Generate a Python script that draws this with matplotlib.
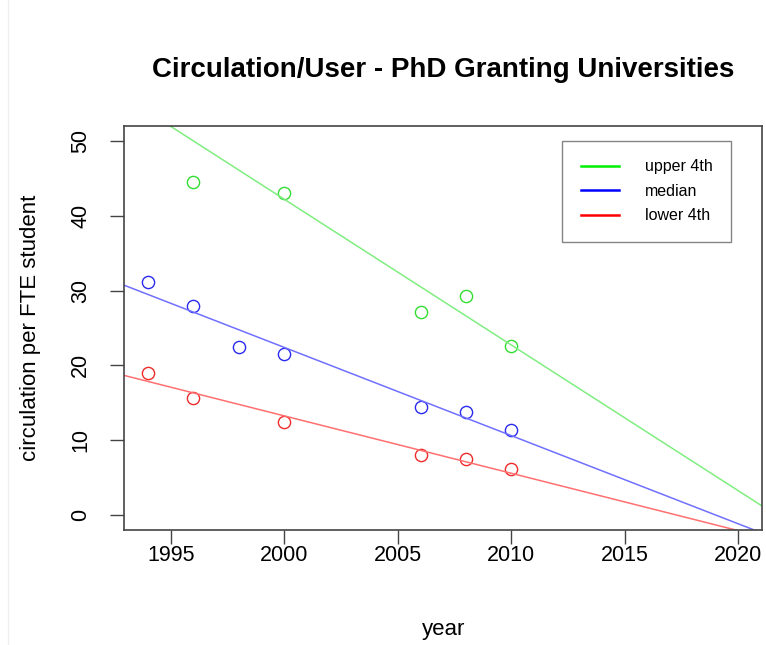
import numpy as np
import matplotlib
matplotlib.use("Agg")
import matplotlib.pyplot as plt
from matplotlib.lines import Line2D

plt.rcParams['font.family'] = ['Liberation Sans', 'DejaVu Sans']

upper_years = [1996, 2000, 2006, 2008, 2010]
upper_vals = [44.5, 43.0, 27.2, 29.3, 22.6]
median_years = [1994, 1996, 1998, 2000, 2006, 2008, 2010]
median_vals = [31.1, 28.0, 22.5, 21.5, 14.4, 13.8, 11.4]
lower_years = [1994, 1996, 2000, 2006, 2008, 2010]
lower_vals = [19.0, 15.7, 12.4, 8.0, 7.5, 6.2]

# fitted trend lines: value at 2000 and slope per year
upper_fit = (42.2, -1.948)
median_fit = (22.4, -1.179)
lower_fit = (13.25, -0.767)

xticks = [1995, 2000, 2005, 2010, 2015, 2020]
yticks = [0, 10, 20, 30, 40, 50]

fig = plt.figure(figsize=(7.66, 6.45), dpi=100)
ax = fig.add_axes([0.1625, 0.1783, 0.8323, 0.6264])

xlim = (1994 - 1.04, 2020 + 1.04)
ylim = (-2, 52)
xs = np.array(xlim)

series = [
    (upper_years, upper_vals, upper_fit, '#33dd33', '#80ee80', '#00ee00', 'upper 4th'),
    (median_years, median_vals, median_fit, '#2a2aee', '#7070ff', '#0000ff', 'median'),
    (lower_years, lower_vals, lower_fit, '#ee2a2a', '#ff7070', '#ff0000', 'lower 4th'),
]
handles = []
for yrs, vals, (b, m), pc, lc, legc, name in series:
    ax.plot(yrs, vals, 'o', mfc='none', mec=pc, ms=8.8, mew=1.0)
    ax.plot(xs, b + m * (xs - 2000), color=lc, lw=1.1)
    handles.append(Line2D([], [], color=legc, lw=1.8, label=name))

ax.set_xlim(xlim)
ax.set_ylim(ylim)
ax.set_xticks(xticks)
ax.set_yticks(yticks)
ax.tick_params(axis='both', length=10, width=1.0, color='#444444', labelsize=15.5)
ax.tick_params(axis='x', pad=1)
ax.tick_params(axis='y', pad=14)
for lab in ax.get_yticklabels():
    lab.set_rotation(90)
    lab.set_va('center')
for sp in ax.spines.values():
    sp.set_color('#444444')
    sp.set_linewidth(1.2)

ax.set_xlabel('year', fontsize=16, labelpad=38)
ax.set_ylabel('circulation per FTE student', fontsize=16, labelpad=21)
fig.text(0.578, 0.891, 'Circulation/User - PhD Granting Universities',
         ha='center', va='center', fontsize=20, fontweight='bold')

leg = ax.legend(handles=handles, loc='upper right', bbox_to_anchor=(0.951, 0.963),
                borderaxespad=0, fontsize=11.5, frameon=True, fancybox=False,
                handlelength=2.4, handletextpad=1.6, borderpad=1.15,
                labelspacing=0.6)
leg.get_frame().set_edgecolor('#666666')
leg.get_frame().set_linewidth(1.0)

# faint screenshot edge on the left
fig.add_artist(Line2D([0.011, 0.011], [0.0, 1.0], color='#eeeeee', lw=1.0,
                      transform=fig.transFigure))

fig.savefig('out.png', dpi=100)
